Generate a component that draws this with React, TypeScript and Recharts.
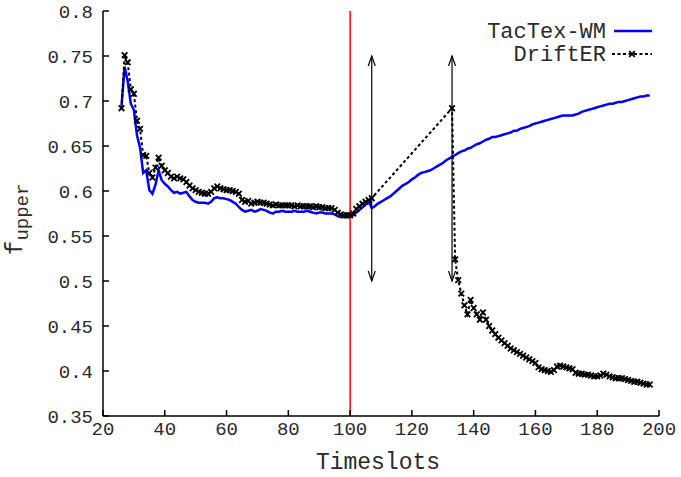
import React from "react"
import { LineChart, Line, XAxis, YAxis, ReferenceLine } from "recharts"

// timeslots and values
const TACTEX_START = 26
const tactexValues = [
  0.695, 0.738, 0.722, 0.697, 0.69, 0.662, 0.648, 0.62, 0.623, 0.601, // 26-35
  0.597, 0.607, 0.623, 0.612, 0.608, 0.605, 0.601, 0.598, 0.599, 0.597, // 36-45
  0.598, 0.599, 0.594, 0.59, 0.588, 0.587, 0.587, 0.587, 0.586, 0.588, // 46-55
  0.592, 0.593, 0.592, 0.592, 0.591, 0.59, 0.588, 0.586, 0.582, 0.579, // 56-65
  0.577, 0.578, 0.579, 0.577, 0.578, 0.58, 0.579, 0.578, 0.576, 0.575, // 66-75
  0.577, 0.577, 0.578, 0.577, 0.577, 0.577, 0.578, 0.577, 0.577, 0.577, // 76-85
  0.578, 0.577, 0.576, 0.575, 0.576, 0.576, 0.575, 0.575, 0.575, 0.574, // 86-95
  0.572, 0.571, 0.571, 0.571, 0.571, 0.573, 0.576, 0.579, 0.582, 0.585, // 96-105
  0.589, 0.581, 0.583, 0.586, 0.588, 0.59, 0.592, 0.594, 0.597, 0.6, // 106-115
  0.603, 0.606, 0.608, 0.61, 0.613, 0.615, 0.618, 0.62, 0.621, 0.622, // 116-125
  0.623, 0.625, 0.627, 0.629, 0.631, 0.634, 0.636, 0.638, 0.64, 0.642, // 126-135
  0.644, 0.645, 0.647, 0.648, 0.65, 0.652, 0.653, 0.655, 0.657, 0.658, // 136-145
  0.66, 0.66, 0.661, 0.662, 0.663, 0.664, 0.665, 0.667, 0.667, 0.669, // 146-155
  0.67, 0.671, 0.672, 0.674, 0.675, 0.676, 0.677, 0.678, 0.679, 0.68, // 156-165
  0.681, 0.682, 0.683, 0.684, 0.684, 0.684, 0.684, 0.685, 0.686, 0.688, // 166-175
  0.689, 0.69, 0.691, 0.692, 0.693, 0.694, 0.695, 0.696, 0.697, 0.697, // 176-185
  0.698, 0.699, 0.699, 0.7, 0.701, 0.702, 0.703, 0.704, 0.705, 0.705, // 186-195
  0.706, 0.706, // 196-197
]

const DRIFTER_START = 26
const drifterBefore = [
  0.692, 0.751, 0.743, 0.713, 0.708, 0.678, 0.669, 0.64, 0.639, 0.62, // 26-35
  0.615, 0.626, 0.637, 0.628, 0.623, 0.62, 0.616, 0.614, 0.616, 0.614, // 36-45
  0.613, 0.61, 0.606, 0.603, 0.601, 0.599, 0.598, 0.597, 0.597, 0.599, // 46-55
  0.603, 0.605, 0.603, 0.602, 0.601, 0.601, 0.6, 0.599, 0.597, 0.59, // 56-65
  0.588, 0.589, 0.586, 0.587, 0.588, 0.587, 0.587, 0.586, 0.585, 0.584, // 66-75
  0.585, 0.584, 0.584, 0.584, 0.584, 0.584, 0.583, 0.584, 0.583, 0.583, // 76-85
  0.583, 0.583, 0.582, 0.583, 0.582, 0.582, 0.581, 0.581, 0.581, 0.579, // 86-95
  0.576, 0.574, 0.573, 0.573, 0.573, 0.575, 0.58, 0.583, 0.586, 0.588, // 96-105
  0.59, 0.592, // 106-107
]

const DRIFTER_RESUME = 133
const drifterAfter = [
  0.692, 0.524, 0.501, 0.486, 0.473, 0.463, 0.479, 0.47, 0.463, 0.457, // 133-142
  0.465, 0.457, 0.45, 0.445, 0.441, 0.437, 0.434, 0.431, 0.428, 0.425, // 143-152
  0.423, 0.421, 0.419, 0.417, 0.415, 0.413, 0.411, 0.409, 0.404, 0.402, // 153-162
  0.401, 0.4, 0.399, 0.401, 0.405, 0.406, 0.405, 0.404, 0.403, 0.402, // 163-172
  0.398, 0.397, 0.397, 0.396, 0.396, 0.395, 0.394, 0.394, 0.395, 0.397, // 173-182
  0.396, 0.394, 0.393, 0.392, 0.392, 0.392, 0.391, 0.39, 0.389, 0.388, // 183-192
  0.388, 0.387, 0.386, 0.385, 0.385, // 193-197
]

const xTicks = [20, 40, 60, 80, 100, 120, 140, 160, 180, 200]
const yTicks = [0.35, 0.4, 0.45, 0.5, 0.55, 0.6, 0.65, 0.7, 0.75, 0.8]
const driftStartSlot = 100
const arrowSlots = [107, 133]
const arrowRange = [0.5, 0.75]

const tactexData = tactexValues.map((v, i) => ({ t: TACTEX_START + i, v }))
const drifterData = [
  ...drifterBefore.map((v, i) => ({ t: DRIFTER_START + i, v })),
  ...drifterAfter.map((v, i) => ({ t: DRIFTER_RESUME + i, v })),
]

const MONO = "'Liberation Mono', 'Courier New', monospace"
const TEXT = "#2a2a2a"

const Cross = (props: any) => {
  const { cx, cy, index } = props
  if (cx == null || cy == null) return <g key={`c-${index}`} />
  const s = 2.8
  return (
    <path
      key={`c-${index}`}
      d={`M${cx - s},${cy - s}L${cx + s},${cy + s}M${cx - s},${cy + s}L${cx + s},${cy - s}`}
      stroke="#000"
      strokeWidth={1.8}
      fill="none"
    />
  )
}

const DoubleArrow = (props: any) => {
  const { x1, y1, x2, y2 } = props
  const top = Math.min(y1, y2)
  const bot = Math.max(y1, y2)
  const x = x1
  return (
    <g stroke="#000" strokeWidth={1.2} fill="none">
      <line x1={x} y1={top} x2={x2} y2={bot} />
      <polyline points={`${x - 3.5},${top + 10} ${x},${top} ${x + 3.5},${top + 10}`} />
      <polyline points={`${x - 3.5},${bot - 10} ${x},${bot} ${x + 3.5},${bot - 10}`} />
    </g>
  )
}

const XTitle = (props: any) => {
  const { viewBox } = props
  return (
    <text x={viewBox.x + viewBox.width / 2 - 3} y={469} textAnchor="middle" fontFamily={MONO} fontSize={23} fill={TEXT}>
      Timeslots
    </text>
  )
}

const YTitle = () => (
  <text transform="rotate(-90, 22, 255)" x={22} y={255} fontFamily={MONO} fontSize={24} fill={TEXT}>
    f
    <tspan fontSize={19} dy={6}>
      upper
    </tspan>
  </text>
)

export default function App() {
  const tickStyle = { fontFamily: MONO, fontSize: 19, fill: TEXT }
  return (
    <div style={{ position: "absolute", left: 0, top: 0, width: 681, height: 477, background: "#fff" }}>
      <LineChart width={681} height={477} margin={{ top: 11, right: 22, left: 0, bottom: 0 }}>
        <XAxis
          dataKey="t"
          type="number"
          domain={[20, 200]}
          ticks={xTicks}
          height={61}
          tickSize={-6}
          tickMargin={12}
          tick={tickStyle}
          stroke="#000"
          strokeWidth={1.5}
          label={<XTitle />}
        />
        <XAxis
          xAxisId="top"
          orientation="top"
          dataKey="t"
          type="number"
          domain={[20, 200]}
          ticks={xTicks}
          height={0}
          tickSize={-6}
          tick={() => <g />}
          stroke="#000"
          strokeWidth={1.5}
        />
        <YAxis
          type="number"
          domain={[0.35, 0.8]}
          ticks={yTicks}
          width={103}
          tickSize={-6}
          tickMargin={16}
          tick={tickStyle}
          stroke="#000"
          strokeWidth={1.5}
          label={<YTitle />}
        />
        <YAxis
          yAxisId="right"
          orientation="right"
          type="number"
          domain={[0.35, 0.8]}
          ticks={yTicks}
          width={0}
          tickSize={-6}
          tick={() => <g />}
          stroke="#000"
          strokeWidth={1.5}
        />
        <Line
          data={tactexData}
          dataKey="v"
          type="linear"
          stroke="#0000ff"
          strokeWidth={2.5}
          dot={false}
          isAnimationActive={false}
        />
        <Line
          data={drifterData}
          dataKey="v"
          type="linear"
          stroke="#000"
          strokeWidth={2}
          strokeDasharray="3 2.5"
          dot={Cross}
          isAnimationActive={false}
        />
        <ReferenceLine x={driftStartSlot} stroke="#ff0000" strokeWidth={1.5} />
        {arrowSlots.map((s) => (
          <ReferenceLine
            key={s}
            segment={[
              { x: s, y: arrowRange[0] },
              { x: s, y: arrowRange[1] },
            ]}
            shape={DoubleArrow}
          />
        ))}
      </LineChart>
      <svg width={681} height={477} style={{ position: "absolute", left: 0, top: 0, pointerEvents: "none" }}>
        <text x={606} y={38} textAnchor="end" fontFamily={MONO} fontSize={22} fill={TEXT}>
          TacTex-WM
        </text>
        <line x1={614} y1={31} x2={652} y2={31} stroke="#0000ff" strokeWidth={2.5} />
        <text x={606} y={61} textAnchor="end" fontFamily={MONO} fontSize={22} fill={TEXT}>
          DriftER
        </text>
        <line x1={612} y1={54} x2={652} y2={54} stroke="#000" strokeWidth={2} strokeDasharray="3 2.5" />
        <Cross cx={632} cy={54} index={0} />
      </svg>
    </div>
  )
}
